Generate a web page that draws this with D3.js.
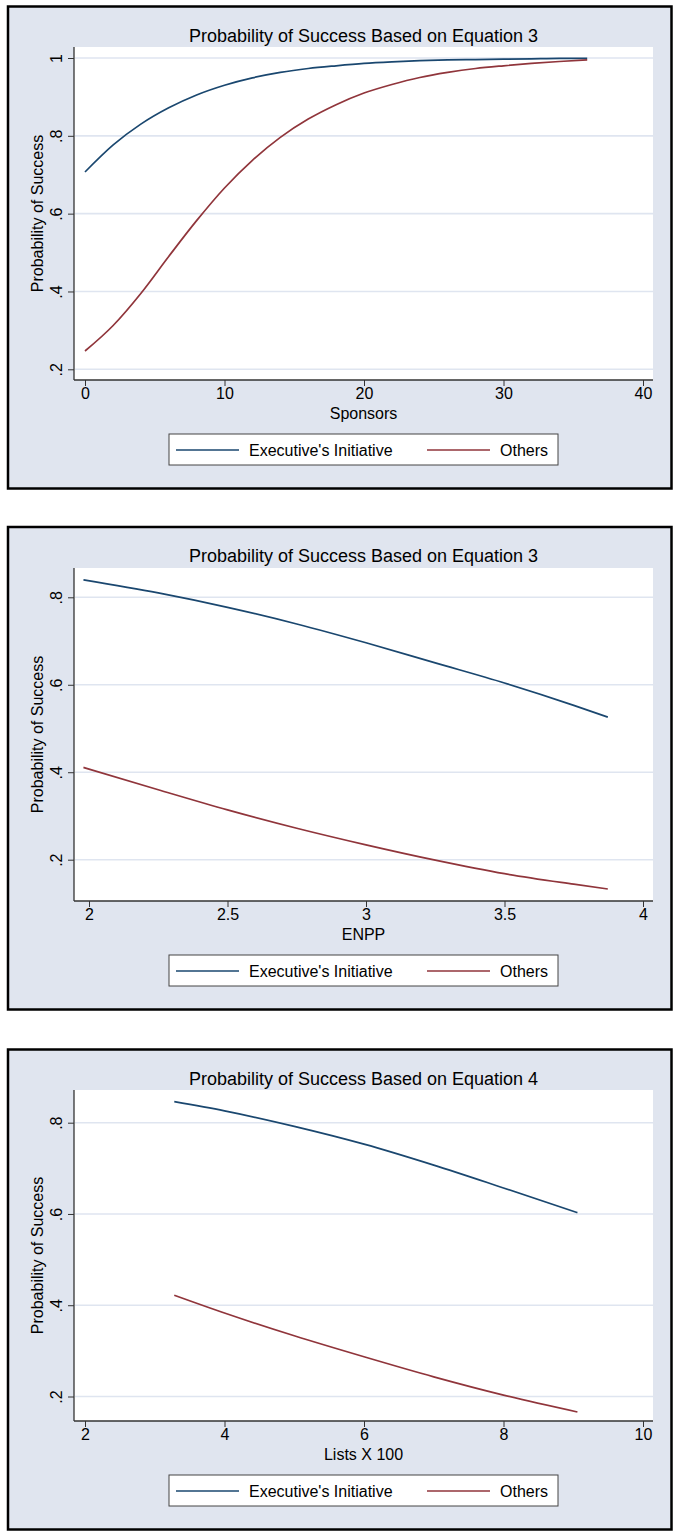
<!DOCTYPE html>
<html>
<head>
<meta charset="utf-8">
<script src="https://cdn.jsdelivr.net/npm/d3@7"></script>
<style>
  body { margin: 0; background: #fff; }
  svg { display: block; font-family: "Liberation Sans", Arial, sans-serif; }
</style>
</head>
<body>
<script>
// data
const sponsorsX      = [0, 2, 4, 6, 8, 10, 12, 14, 16, 18, 20, 22, 24, 26, 28, 30, 32, 34, 36];
const sponsorsExec   = [0.707, 0.776, 0.830, 0.872, 0.905, 0.930, 0.949, 0.963, 0.973, 0.980, 0.986, 0.990, 0.993, 0.995, 0.996, 0.997, 0.998, 0.999, 0.999];
const sponsorsOthers = [0.247, 0.312, 0.395, 0.490, 0.582, 0.666, 0.737, 0.796, 0.843, 0.880, 0.910, 0.932, 0.950, 0.963, 0.973, 0.980, 0.986, 0.991, 0.995];

const enppX      = [1.98, 2.25, 2.5, 2.75, 3.0, 3.25, 3.5, 3.75, 3.873];
const enppExec   = [0.840, 0.810, 0.777, 0.739, 0.696, 0.650, 0.604, 0.553, 0.526];
const enppOthers = [0.411, 0.360, 0.314, 0.272, 0.234, 0.199, 0.168, 0.144, 0.133];

const listsX      = [3.28, 4, 5, 6, 7, 8, 9.06];
const listsExec   = [0.846, 0.826, 0.792, 0.753, 0.707, 0.657, 0.603];
const listsOthers = [0.422, 0.383, 0.333, 0.287, 0.243, 0.203, 0.166];

const titles = ["Probability of Success Based on Equation 3",
                "Probability of Success Based on Equation 3",
                "Probability of Success Based on Equation 4"];
const xTitles = ["Sponsors", "ENPP", "Lists X 100"];
const yTitle = "Probability of Success";
const seriesNames = ["Executive's Initiative", "Others"];

const xTicks = [[0, 10, 20, 30, 40], [2, 2.5, 3, 3.5, 4], [2, 4, 6, 8, 10]];
const yTicks = [[0.2, 0.4, 0.6, 0.8, 1], [0.2, 0.4, 0.6, 0.8], [0.2, 0.4, 0.6, 0.8]];

const width = 674, height = 1532;
const navy = "#1a476f", maroon = "#90353b";
const bg = "#e0e5ef", grid = "#dfe5f0";

// panel geometry (pixels)
const panels = [
    { top: 6.5,  bottom: 488.5,  plotTop: 47,   axisY: 380,  xr: [85, 643], yr: [369.3, 58] },
    { top: 527,  bottom: 1009.5, plotTop: 568,  axisY: 901,  xr: [89, 643], yr: [859.7, 597.3] },
    { top: 1049.5, bottom: 1529.5, plotTop: 1090, axisY: 1421, xr: [85, 643], yr: [1396.5, 1122.7] }
];
const data = [
    { x: sponsorsX, a: sponsorsExec, b: sponsorsOthers },
    { x: enppX, a: enppExec, b: enppOthers },
    { x: listsX, a: listsExec, b: listsOthers }
];
const plotLeft = 74, plotRight = 653;

const svg = d3.select("body").append("svg")
    .attr("width", width)
    .attr("height", height);

const fmt = v => v === 1 ? "1" : d3.format(".1f")(v).replace(/^0/, "");
const fmtX = v => String(v);

panels.forEach((p, i) => {
    const g = svg.append("g");
    const xt = xTicks[i], yt = yTicks[i];

    // outer frame
    g.append("rect")
        .attr("x", 8).attr("y", p.top)
        .attr("width", 663.5).attr("height", p.bottom - p.top)
        .attr("fill", bg)
        .attr("stroke", "#000")
        .attr("stroke-width", 2.5);

    // plot region
    g.append("rect")
        .attr("x", plotLeft).attr("y", p.plotTop)
        .attr("width", plotRight - plotLeft).attr("height", p.axisY - p.plotTop)
        .attr("fill", "#fff");

    const x = d3.scaleLinear().domain([xt[0], xt[xt.length - 1]]).range(p.xr);
    const y = d3.scaleLinear().domain([yt[0], yt[yt.length - 1]]).range(p.yr);

    // gridlines
    g.append("g").selectAll("line")
        .data(yt).enter().append("line")
        .attr("x1", plotLeft + 1).attr("x2", plotRight)
        .attr("y1", d => y(d)).attr("y2", d => y(d))
        .attr("stroke", grid)
        .attr("stroke-width", 1.6);

    // y axis
    const ya = g.append("g")
        .attr("transform", `translate(${plotLeft},0)`)
        .call(d3.axisLeft(y).tickValues(yt).tickFormat(fmt).tickSize(6).tickPadding(6));
    ya.select(".domain").remove();
    ya.selectAll(".tick line").attr("stroke", "#333");
    ya.selectAll(".tick text")
        .attr("font-size", 16)
        .attr("fill", "#000")
        .attr("text-anchor", "middle")
        .attr("dy", 0)
        .attr("x", 0)
        .attr("transform", "translate(-12,0) rotate(-90)");

    // x axis
    const xa = g.append("g")
        .attr("transform", `translate(0,${p.axisY})`)
        .call(d3.axisBottom(x).tickValues(xt).tickFormat(fmtX).tickSize(6).tickPadding(6));
    xa.select(".domain").remove();
    xa.selectAll(".tick line").attr("stroke", "#333");
    xa.selectAll(".tick text")
        .attr("font-size", 16)
        .attr("fill", "#000")
        .attr("dy", "0.72em")
        .attr("y", 7);

    // axis lines
    g.append("line")
        .attr("x1", plotLeft).attr("x2", plotLeft)
        .attr("y1", p.plotTop).attr("y2", p.axisY)
        .attr("stroke", "#333").attr("stroke-width", 1.3);
    g.append("line")
        .attr("x1", plotLeft).attr("x2", plotRight)
        .attr("y1", p.axisY).attr("y2", p.axisY)
        .attr("stroke", "#333").attr("stroke-width", 1.3);

    // titles
    const cx = (plotLeft + plotRight) / 2;
    g.append("text")
        .attr("x", cx).attr("y", p.top + 35)
        .attr("text-anchor", "middle")
        .attr("font-size", 18)
        .text(titles[i]);
    g.append("text")
        .attr("x", cx).attr("y", p.axisY + 39)
        .attr("text-anchor", "middle")
        .attr("font-size", 16)
        .text(xTitles[i]);
    g.append("text")
        .attr("transform", `translate(43,${(p.plotTop + p.axisY) / 2}) rotate(-90)`)
        .attr("text-anchor", "middle")
        .attr("font-size", 16)
        .text(yTitle);

    // curves
    const d = data[i];
    const line = vals => d3.line()
        .x((v, k) => x(d.x[k]))
        .y(v => y(v))
        .curve(d3.curveMonotoneX)(vals);
    g.append("path").attr("d", line(d.a))
        .attr("fill", "none").attr("stroke", navy).attr("stroke-width", 1.7);
    g.append("path").attr("d", line(d.b))
        .attr("fill", "none").attr("stroke", maroon).attr("stroke-width", 1.7);

    // legend
    const ly = p.axisY + 54;
    const lg = g.append("g");
    lg.append("rect")
        .attr("x", 169).attr("y", ly)
        .attr("width", 389).attr("height", 31)
        .attr("fill", "#fff")
        .attr("stroke", "#444")
        .attr("stroke-width", 1);
    const items = [
        { name: seriesNames[0], color: navy, x0: 176 },
        { name: seriesNames[1], color: maroon, x0: 427 }
    ];
    items.forEach(it => {
        lg.append("line")
            .attr("x1", it.x0).attr("x2", it.x0 + 63)
            .attr("y1", ly + 16).attr("y2", ly + 16)
            .attr("stroke", it.color).attr("stroke-width", 1.7);
        lg.append("text")
            .attr("x", it.x0 + 73).attr("y", ly + 22)
            .attr("font-size", 16)
            .text(it.name);
    });
});
</script>
</body>
</html>
